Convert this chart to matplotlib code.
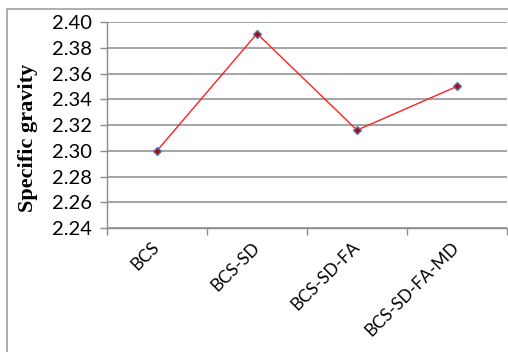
import matplotlib.pyplot as plt
from matplotlib.patches import Rectangle

mixes = ['BCS', 'BCS-SD', 'BCS-SD-FA', 'BCS-SD-FA-MD']
specific_gravity = [2.300, 2.391, 2.316, 2.350]
y_ticks = [2.24, 2.26, 2.28, 2.30, 2.32, 2.34, 2.36, 2.38, 2.40]

grid_col = '#8c8c8c'

fig = plt.figure(figsize=(5.08, 3.52), dpi=100)
ax = fig.add_axes([107 / 508, 1 - 228 / 352, 400 / 508, 206 / 352])

x = list(range(len(mixes)))
ax.plot(x, specific_gravity, color='#ff2020', linewidth=1.0,
        marker='D', markersize=4.5, markerfacecolor='#c00000',
        markeredgecolor='#4f81bd', markeredgewidth=1.0, zorder=3)

ax.set_xlim(-0.5, len(mixes) - 0.5)
ax.set_ylim(2.24, 2.40)
ax.set_yticks(y_ticks)
ax.set_yticklabels([f'{v:.2f}' for v in y_ticks], family='Lato', fontsize=14.5)
ax.yaxis.grid(True, color=grid_col, linewidth=1.1)
ax.set_axisbelow(True)

ax.set_xticks(x)
ax.set_xticklabels(mixes, rotation=45, ha='right', va='center',
                   rotation_mode='anchor', family='Lato', fontsize=12.5)
ax.tick_params(axis='x', which='major', length=0, pad=12)
ax.set_xticks([i - 0.5 for i in range(len(mixes) + 1)], minor=True)
ax.tick_params(axis='x', which='minor', length=5, color=grid_col, width=1.0)
ax.tick_params(axis='y', length=5, color=grid_col, width=1.0, pad=6)

for s in ['top', 'right']:
    ax.spines[s].set_visible(False)
for s in ['left', 'bottom']:
    ax.spines[s].set_color(grid_col)
    ax.spines[s].set_linewidth(1.0)

ax.set_ylabel('Specific gravity', family='Liberation Serif', fontweight='bold',
              fontsize=16)
ax.yaxis.set_label_coords(-0.172, 0.437)

fig.add_artist(Rectangle((7 / 508, -0.1), 1.2, 1.1 - 9 / 352, transform=fig.transFigure,
                         fill=False, edgecolor='#a0a0a0', linewidth=1.2))

fig.savefig('out.png', dpi=100)
